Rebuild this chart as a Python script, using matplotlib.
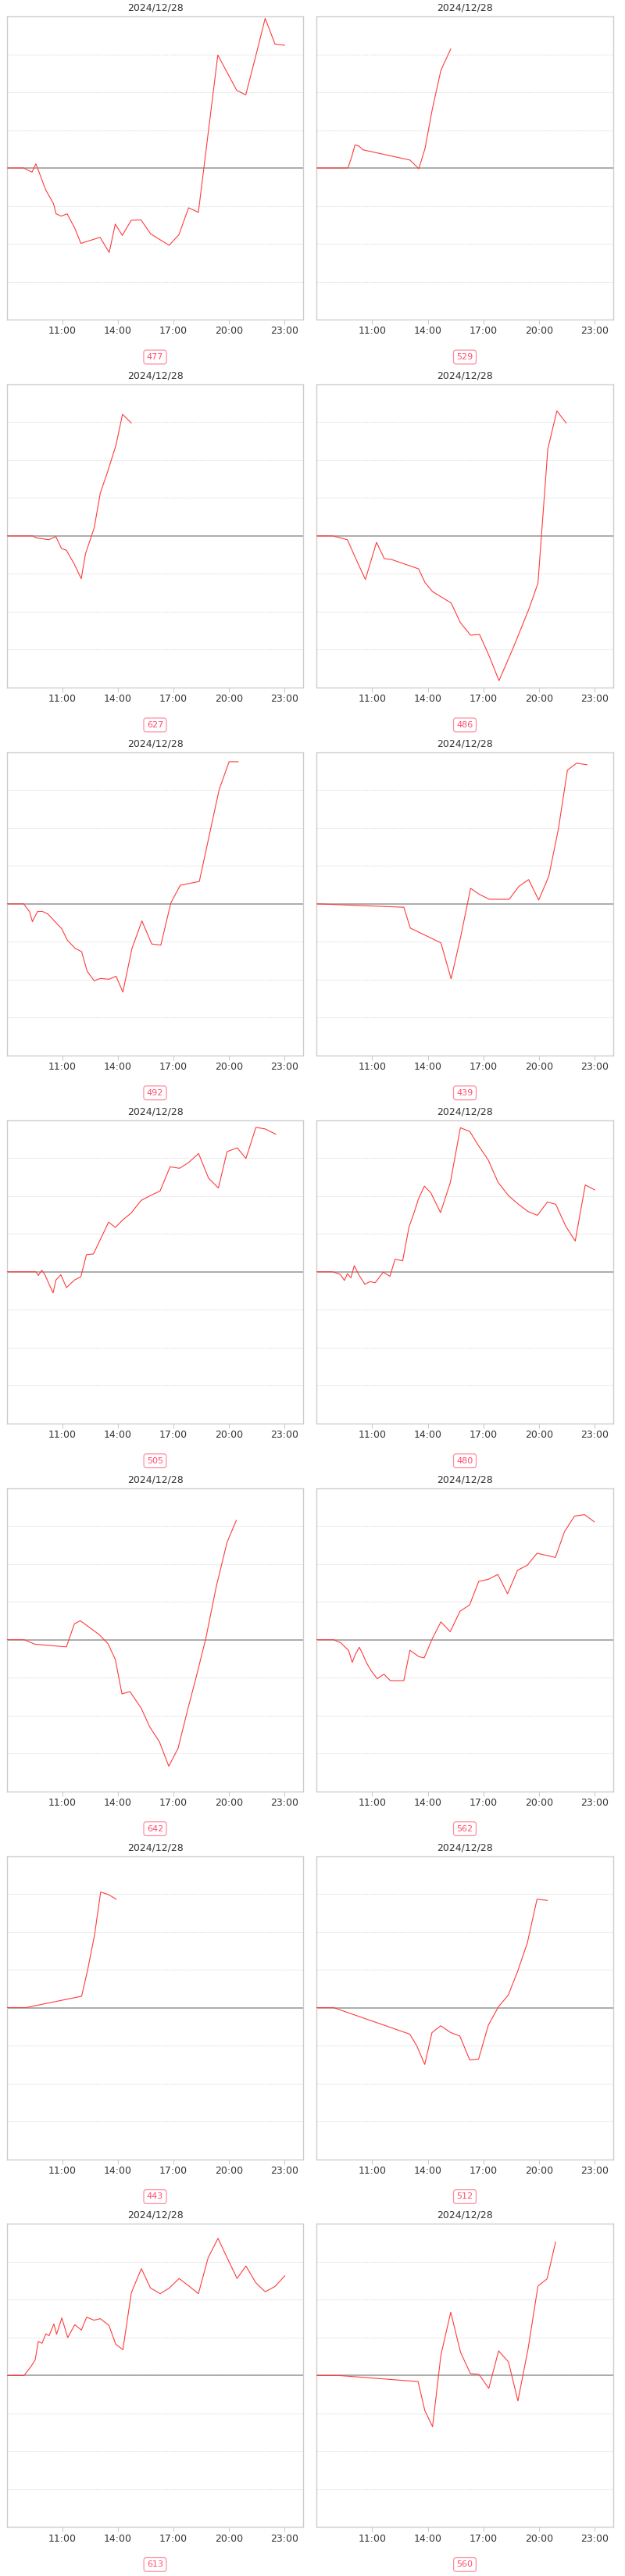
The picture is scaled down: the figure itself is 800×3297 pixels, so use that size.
import matplotlib
matplotlib.use("Agg")
import matplotlib.pyplot as plt

# 每个小图：时间(小时)，数值(以网格线为单位)
date_title = "2024/12/28"
tick_hours = [11, 14, 17, 20, 23]
tick_labels = ["11:00", "14:00", "17:00", "20:00", "23:00"]
codes = ["477", "529", "627", "486", "492", "439", "505",
         "480", "642", "562", "443", "512", "613", "560"]

t_477 = [8.0, 8.9, 9.35, 9.56, 10.09, 10.51, 10.65, 10.93, 11.25, 11.67, 11.99, 13.03, 13.52, 13.85, 14.23,
         14.71, 15.24, 15.76, 16.76, 17.29, 17.81, 18.34, 19.39, 20.41, 20.9, 21.49, 21.95, 22.48, 23.0]
v_477 = [0, 0, -0.11, 0.11, -0.58, -0.94, -1.21, -1.27, -1.21, -1.6, -1.99, -1.83, -2.23, -1.48, -1.78,
         -1.38, -1.37, -1.74, -2.04, -1.76, -1.05, -1.17, 2.98, 2.05, 1.93, 3.05, 3.95, 3.27, 3.24]

t_529 = [8.0, 9.7, 9.9, 10.08, 10.29, 10.5, 13.04, 13.52, 13.85, 14.25, 14.71, 15.24]
v_529 = [0, 0, 0.29, 0.61, 0.58, 0.48, 0.21, -0.02, 0.51, 1.56, 2.58, 3.14]

t_627 = [8.0, 9.39, 9.56, 10.25, 10.64, 10.94, 11.21, 11.64, 12.01, 12.24, 12.71, 13.04, 13.46, 13.89,
         14.24, 14.71]
v_627 = [0, 0, -0.05, -0.1, -0.02, -0.33, -0.38, -0.75, -1.13, -0.47, 0.21, 1.13, 1.73, 2.4, 3.21, 2.98]

t_486 = [8.0, 8.86, 9.67, 10.14, 10.64, 11.24, 11.66, 12.03, 13.51, 13.85, 14.26, 15.26, 15.76, 16.31,
         16.79, 17.32, 17.84, 18.61, 19.46, 19.94, 20.47, 20.96, 21.46]
v_486 = [0, 0, -0.1, -0.62, -1.15, -0.17, -0.6, -0.62, -0.87, -1.23, -1.47, -1.77, -2.29, -2.62,
         -2.6, -3.18, -3.82, -2.95, -1.92, -1.25, 2.29, 3.3, 2.98]

t_492 = [8.0, 8.9, 9.22, 9.37, 9.65, 9.91, 10.21, 10.96, 11.26, 11.69, 12.03, 12.33, 12.71, 13.04, 13.51,
         13.89, 14.26, 14.75, 15.29, 15.82, 16.31, 16.85, 17.36, 18.39, 19.46, 20.0, 20.49]
v_492 = [0, 0, -0.21, -0.47, -0.2, -0.2, -0.27, -0.66, -0.96, -1.18, -1.26, -1.78, -2.03, -1.97, -1.99,
         -1.91, -2.33, -1.18, -0.45, -1.06, -1.09, 0.02, 0.49, 0.59, 3.01, 3.75, 3.75]

t_439 = [8.0, 12.71, 13.06, 14.71, 15.26, 15.78, 16.31, 16.78, 17.32, 18.39, 18.91, 19.44, 19.98, 20.52,
         21.04, 21.53, 22.02, 22.58]
v_439 = [0, -0.09, -0.64, -1.03, -1.98, -0.86, 0.41, 0.25, 0.12, 0.12, 0.46, 0.64, 0.1, 0.72,
         1.97, 3.53, 3.71, 3.67]

t_505 = [8.0, 9.56, 9.69, 9.88, 10.05, 10.31, 10.49, 10.64, 10.91, 11.21, 11.64, 11.99, 12.29, 12.67,
         13.1, 13.49, 13.85, 14.28, 14.71, 15.24, 15.74, 16.27, 16.81, 17.32, 17.81, 18.35, 18.89, 19.42,
         19.89, 20.44, 20.91, 21.45, 21.94, 22.52]
v_505 = [0, 0, -0.1, 0.04, -0.08, -0.37, -0.56, -0.22, -0.08, -0.42, -0.22, -0.13, 0.45, 0.47,
         0.91, 1.31, 1.17, 1.38, 1.55, 1.88, 2.01, 2.13, 2.77, 2.73, 2.88, 3.12, 2.47, 2.21,
         3.17, 3.27, 2.99, 3.81, 3.77, 3.63]

t_480 = [8.0, 8.86, 9.29, 9.51, 9.67, 9.86, 10.04, 10.31, 10.61, 10.89, 11.17, 11.6, 11.96, 12.24, 12.65,
         12.99, 13.25, 13.5, 13.82, 14.17, 14.69, 15.22, 15.76, 16.27, 16.72, 17.26, 17.79, 18.35, 18.89,
         19.4, 19.91, 20.45, 20.9, 21.44, 21.95, 22.49, 23.0]
v_480 = [0, 0, -0.07, -0.23, -0.05, -0.16, 0.16, -0.1, -0.33, -0.26, -0.29, -0.01, -0.12, 0.33, 0.29,
         1.18, 1.54, 1.92, 2.26, 2.08, 1.56, 2.36, 3.8, 3.7, 3.34, 2.95, 2.36, 2.01, 1.78,
         1.59, 1.49, 1.84, 1.78, 1.2, 0.81, 2.29, 2.16]

t_642 = [8.0, 8.92, 9.5, 11.21, 11.64, 11.96, 12.46, 12.99, 13.46, 13.85, 14.21, 14.64, 15.24, 15.71,
         16.24, 16.74, 17.24, 17.77, 18.24, 18.74, 19.31, 19.89, 20.39]
v_642 = [0, 0, -0.12, -0.19, 0.42, 0.5, 0.32, 0.13, -0.11, -0.52, -1.43, -1.37, -1.8, -2.3,
         -2.7, -3.34, -2.87, -1.83, -0.95, 0.03, 1.41, 2.57, 3.15]

t_562 = [8.0, 8.92, 9.31, 9.74, 9.93, 10.1, 10.31, 10.48, 10.69, 10.95, 11.28, 11.64, 11.98, 12.71,
         13.04, 13.53, 13.81, 14.24, 14.71, 15.21, 15.74, 16.26, 16.75, 17.25, 17.78, 18.3, 18.84, 19.38,
         19.89, 20.88, 21.37, 21.91, 22.45, 22.98]
v_562 = [0, 0, -0.08, -0.29, -0.6, -0.39, -0.2, -0.36, -0.6, -0.82, -1.03, -0.91, -1.08, -1.08,
         -0.28, -0.45, -0.48, 0.02, 0.47, 0.21, 0.75, 0.92, 1.54, 1.59, 1.72, 1.21, 1.83, 1.97,
         2.28, 2.17, 2.85, 3.26, 3.3, 3.11]

t_443 = [8.0, 9.02, 12.03, 12.35, 12.73, 13.06, 13.49, 13.9]
v_443 = [0, 0, 0.3, 0.98, 1.92, 3.05, 2.98, 2.86]

t_512 = [8.0, 8.92, 13.03, 13.41, 13.84, 14.23, 14.7, 15.24, 15.73, 16.26, 16.74, 17.27, 17.81, 18.34,
         18.84, 19.37, 19.89, 20.44]
v_512 = [0, 0, -0.7, -1.01, -1.5, -0.66, -0.48, -0.66, -0.75, -1.38, -1.36, -0.46, 0.02, 0.33,
         0.95, 1.71, 2.86, 2.83]

t_613 = [8.0, 8.92, 9.31, 9.52, 9.69, 9.89, 10.1, 10.27, 10.53, 10.68, 10.96, 11.28, 11.66, 12.02, 12.3,
         12.7, 13.04, 13.51, 13.87, 14.26, 14.72, 15.26, 15.75, 16.28, 16.77, 17.3, 17.83, 18.34, 18.87,
         19.4, 19.93, 20.43, 20.91, 21.44, 21.95, 22.48, 23.01]
v_613 = [0, 0, 0.25, 0.41, 0.9, 0.85, 1.1, 1.05, 1.36, 1.09, 1.52, 1.0, 1.34, 1.2, 1.54,
         1.46, 1.5, 1.32, 0.83, 0.68, 2.19, 2.82, 2.31, 2.16, 2.31, 2.56, 2.36, 2.16, 3.11,
         3.62, 3.07, 2.56, 2.89, 2.45, 2.21, 2.35, 2.63]

t_560 = [8.0, 9.24, 13.48, 13.84, 14.26, 14.71, 15.24, 15.77, 16.3, 16.76, 17.29, 17.82, 18.35, 18.86,
         19.41, 19.94, 20.43, 20.89]
v_560 = [0, 0, -0.16, -0.92, -1.35, 0.54, 1.67, 0.61, 0.05, 0.03, -0.34, 0.65, 0.36, -0.67,
         0.71, 2.36, 2.55, 3.52]

series = [(t_477, v_477), (t_529, v_529), (t_627, v_627), (t_486, v_486), (t_492, v_492),
          (t_439, v_439), (t_505, v_505), (t_480, v_480), (t_642, v_642), (t_562, v_562),
          (t_443, v_443), (t_512, v_512), (t_613, v_613), (t_560, v_560)]

W, H = 800, 3297
fig = plt.figure(figsize=(W / 100, H / 100), dpi=100)

row_h = 470.9
for i, (t, v) in enumerate(series):
    row, col = i // 2, i % 2
    x0 = 9 if col == 0 else 405
    x1 = 388 if col == 0 else 785
    top = 21 + row_h * row
    bot = 409 + row_h * row
    ax = fig.add_axes([x0 / W, 1 - bot / H, (x1 - x0) / W, (bot - top) / H])

    ax.plot(t, v, color="#ff3b3b", lw=0.8, zorder=3)
    ax.axhline(0, color="#999999", lw=1.1, zorder=2)

    ax.set_xlim(8, 24)
    ax.set_ylim(-4, 4)
    ax.set_yticks(range(-3, 4))
    ax.yaxis.grid(True, color="#e6e6e6", lw=0.8, ls=(0, (2, 1)))
    ax.tick_params(axis="y", length=0, labelleft=False)
    ax.set_xticks(tick_hours)
    ax.set_xticklabels(tick_labels)
    ax.tick_params(axis="x", length=4, width=0.8, color="#cccccc",
                   labelsize=9, labelcolor="#333333", pad=2)
    for s in ax.spines.values():
        s.set_color("#cccccc")
        s.set_linewidth(1.0)

    cx = (x0 + x1) / 2
    fig.text(cx / W, 1 - (10 + row_h * row) / H, date_title, ha="center", va="center",
             fontsize=9, color="#333333")
    fig.text(cx / W, 1 - (457 + row_h * row) / H, codes[i], ha="center", va="center",
             fontsize=8, color="#ff4d6d",
             bbox=dict(boxstyle="round,pad=0.35,rounding_size=0.3", fc="white",
                       ec="#ff8fa3", lw=0.9))

fig.savefig("out.png", dpi=100)
